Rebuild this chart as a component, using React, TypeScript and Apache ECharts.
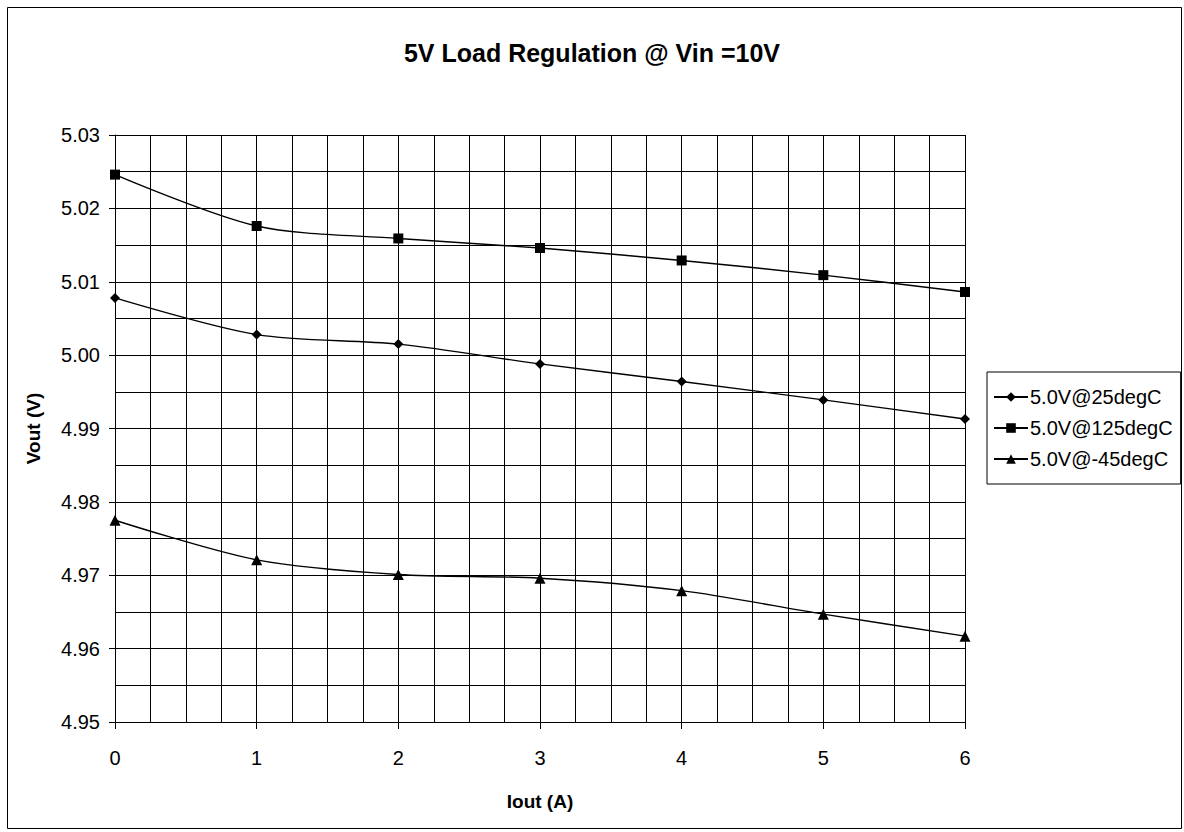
import React, { useEffect, useRef } from "react";
import * as echarts from "echarts";

const xValues = [0, 1, 2, 3, 4, 5, 6];
const seriesNames = ["5.0V@25degC", "5.0V@125degC", "5.0V@-45degC"];
const v25 = [5.0078, 5.0028, 5.0015, 4.9988, 4.9964, 4.9939, 4.9913];
const v125 = [5.0246, 5.0176, 5.0159, 5.0146, 5.0129, 5.0109, 5.0086];
const vM45 = [4.9775, 4.9721, 4.9701, 4.9696, 4.9679, 4.9647, 4.9617];
const symbols = ["diamond", "rect", "triangle"];
const symbolSizes = [10, 10, 11];

const FONT = "'Liberation Sans', Arial, sans-serif";

export default function App() {
  const ref = useRef<HTMLDivElement>(null);
  useEffect(() => {
    if (!ref.current) return;
    const chart = echarts.init(ref.current, null, { renderer: "svg" });
    const allData = [v25, v125, vM45];
    chart.setOption({
      animation: false,
      backgroundColor: "#fff",
      title: {
        text: "5V Load Regulation @ Vin =10V",
        left: "center",
        top: 35,
        textStyle: { fontFamily: FONT, fontSize: 25, fontWeight: "bold", color: "#000" },
      },
      graphic: [
        {
          type: "rect",
          shape: { x: 7.5, y: 7.5, width: 1174, height: 821 },
          style: { fill: "none", stroke: "#000", lineWidth: 1 },
          silent: true,
        },
      ],
      grid: { left: 115, right: 219, top: 135, bottom: 110, containLabel: false },
      legend: {
        orient: "vertical",
        left: 987,
        top: 372,
        data: seriesNames,
        itemWidth: 34,
        itemHeight: 12,
        itemGap: 11,
        padding: [15, 8, 15, 6],
        borderColor: "#000",
        borderWidth: 1,
        textStyle: { fontFamily: FONT, fontSize: 20, color: "#000", padding: [0, 0, 0, -3] },
      },
      xAxis: {
        type: "value",
        min: 0,
        max: 6,
        interval: 1,
        name: "Iout (A)",
        nameLocation: "middle",
        nameGap: 70,
        nameTextStyle: { fontFamily: FONT, fontSize: 19, fontWeight: "bold", color: "#000" },
        axisLine: { show: true, lineStyle: { color: "#000", width: 1 } },
        axisTick: { show: true, length: 7, inside: false, lineStyle: { color: "#000" } },
        axisLabel: { fontFamily: FONT, fontSize: 20, color: "#000", margin: 26 },
        splitLine: { show: true, lineStyle: { color: "#000", width: 1 } },
        minorTick: { show: false, splitNumber: 4 },
        minorSplitLine: { show: true, lineStyle: { color: "#000", width: 1 } },
      },
      yAxis: {
        type: "value",
        min: 4.95,
        max: 5.03,
        interval: 0.01,
        name: "Vout (V)",
        nameLocation: "middle",
        nameGap: 72,
        nameTextStyle: { fontFamily: FONT, fontSize: 19, fontWeight: "bold", color: "#000" },
        axisLine: { show: true, lineStyle: { color: "#000", width: 1 } },
        axisTick: { show: true, length: 6, inside: false, lineStyle: { color: "#000" } },
        axisLabel: {
          fontFamily: FONT,
          fontSize: 20,
          color: "#000",
          margin: 15,
          formatter: (v: number) => v.toFixed(2),
        },
        splitLine: { show: true, lineStyle: { color: "#000", width: 1 } },
        minorTick: { show: false, splitNumber: 2 },
        minorSplitLine: { show: true, lineStyle: { color: "#000", width: 1 } },
      },
      series: seriesNames.map((name, i) => ({
        name,
        type: "line",
        smooth: 0.3,
        data: xValues.map((x, j) => [x, allData[i][j]]),
        symbol: symbols[i],
        symbolSize: symbolSizes[i],
        showAllSymbol: true,
        itemStyle: { color: "#000" },
        lineStyle: { color: "#000", width: 1.4 },
        emphasis: { disabled: true },
      })),
    });
    return () => chart.dispose();
  }, []);
  return (
    <div
      ref={ref}
      style={{ position: "absolute", left: 0, top: 0, width: 1184, height: 832 }}
    />
  );
}
